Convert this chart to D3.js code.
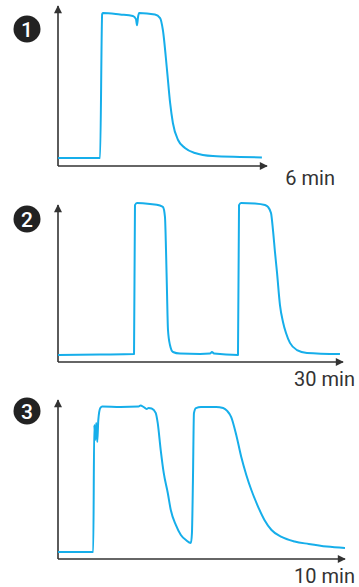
<!DOCTYPE html>
<html>
<head>
<meta charset="utf-8">
<script src="https://cdn.jsdelivr.net/npm/d3@7"></script>
<style>
  body { margin: 0; background: #fff; }
  svg { display: block; }
</style>
</head>
<body>
<div class="svg_container"></div>
<script>
// signal traces, time in minutes, level in % of plateau
var time1 = [0, 1.22, 1.28, 1.30, 1.80, 2.17, 2.26, 2.29, 2.32, 2.35, 2.81, 2.96, 3.04, 3.16, 3.25, 3.33, 3.48, 3.68, 3.97, 4.49, 5.28, 5.91];
var level1 = [5.2, 5.2, 99.3, 100, 99, 98, 96, 92, 97.4, 100, 99, 96.7, 88.9, 62.7, 41.2, 28.1, 17.0, 11.8, 8.5, 6.5, 5.9, 5.6];

var time2 = [0, 4.45, 8.06, 8.16, 8.37, 9.75, 10.81, 11.13, 11.34, 11.45, 11.55, 11.66, 11.87, 12.19, 12.93, 15.05, 16.11, 16.32, 16.54, 19.08, 19.19, 19.40, 20.88, 21.94, 22.26, 22.58, 22.79, 23.0, 23.22, 23.53, 23.85, 24.17, 24.59, 25.33, 26.39, 29.89];
var level2 = [4.4, 4.7, 5.0, 98.7, 100, 99.4, 98.4, 97.5, 91.2, 70.4, 45.3, 20.1, 10.7, 6.3, 5.3, 5.0, 5.3, 6.3, 5.3, 4.4, 98.7, 100, 99.7, 98.7, 97.5, 93.7, 83, 69.2, 56, 35.8, 25.2, 18.2, 12, 7.5, 5.7, 5.0];

var time3 = [0, 1.228, 1.263, 1.298, 1.333, 1.368, 1.404, 1.474, 1.544, 2.175, 2.807, 2.877, 2.982, 3.088, 3.158, 3.263, 3.404, 3.474, 3.579, 3.684, 3.825, 3.930, 4.105, 4.281, 4.456, 4.632, 4.667, 4.702, 4.737, 4.807, 4.982, 5.509, 5.754, 5.895, 6.035, 6.211, 6.386, 6.561, 6.737, 6.947, 7.193, 7.439, 7.789, 8.246, 8.737, 9.368, 10.0];
var level3 = [4.6, 4.6, 88.2, 78.3, 89.5, 77, 91.4, 99.3, 100.3, 100, 100.3, 101, 100, 98.7, 99.3, 99, 96.1, 89.5, 71.7, 56.6, 43.4, 32.2, 22.4, 15.8, 12.5, 10.5, 17.1, 52, 96, 99.3, 100, 100, 99.3, 97.4, 93.4, 81.6, 67.1, 55.3, 45.4, 35.5, 25.7, 19.1, 14.5, 11.5, 9.9, 8.2, 7.2];

var badges = ["1", "2", "3"];
var durations = [6, 30, 10];
var axisLabels = ["6 min", "30 min", "10 min"];

var width = 359, height = 587;

// per-panel layout
var panels = [
  { time: time1, level: level1, top: 6,   axisY: 166, plateauY: 13,  xEnd: 265, arrowEnd: 267, labelX: 335, labelY: 185, badgeY: 29 },
  { time: time2, level: level2, top: 205, axisY: 362, plateauY: 203, xEnd: 341, arrowEnd: 343, labelX: 355, labelY: 386, badgeY: 219 },
  { time: time3, level: level3, top: 400, axisY: 559, plateauY: 407, xEnd: 345, arrowEnd: 345, labelX: 355, labelY: 583, badgeY: 411 }
];

var svg = d3.select(".svg_container").append("svg")
  .attr("width", width)
  .attr("height", height);

var defs = svg.append("defs");
defs.append("marker")
  .attr("id", "arrow")
  .attr("viewBox", "0 0 10 10")
  .attr("refX", 9)
  .attr("refY", 5)
  .attr("markerWidth", 10)
  .attr("markerHeight", 8)
  .attr("markerUnits", "userSpaceOnUse")
  .attr("orient", "auto")
  .append("path")
  .attr("d", "M0,0L10,5L0,10Z")
  .attr("fill", "#333");

var axisLeftX = 58;

panels.forEach(function(p, i) {
  var x = d3.scaleLinear()
    .domain([0, durations[i]])
    .range([axisLeftX, p.xEnd]);
  var y = d3.scaleLinear()
    .domain([0, 100])
    .range([p.axisY, p.plateauY]);

  var g = svg.append("g").attr("class", "panel");

  // y axis with arrow
  g.append("line")
    .attr("x1", axisLeftX).attr("y1", p.axisY)
    .attr("x2", axisLeftX).attr("y2", p.top)
    .attr("stroke", "#333")
    .attr("stroke-width", 1.6)
    .attr("marker-end", "url(#arrow)");

  // x axis with arrow
  g.append("line")
    .attr("x1", axisLeftX).attr("y1", p.axisY)
    .attr("x2", p.arrowEnd).attr("y2", p.axisY)
    .attr("stroke", "#333")
    .attr("stroke-width", 1.6)
    .attr("marker-end", "url(#arrow)");

  var pts = p.time.map(function(t, j) { return [t, p.level[j]]; });

  var line = d3.line()
    .x(function(d) { return x(d[0]); })
    .y(function(d) { return y(d[1]); })
    .curve(d3.curveMonotoneX);

  g.append("path")
    .datum(pts)
    .attr("fill", "none")
    .attr("stroke", "#16aeea")
    .attr("stroke-width", 2)
    .attr("stroke-linejoin", "round")
    .attr("d", line);

  g.append("text")
    .attr("x", p.labelX)
    .attr("y", p.labelY)
    .attr("text-anchor", "end")
    .attr("font-family", "Roboto, sans-serif")
    .attr("font-size", 20)
    .attr("fill", "#333")
    .text(axisLabels[i]);

  // numbered badge
  g.append("circle")
    .attr("cx", 27)
    .attr("cy", p.badgeY)
    .attr("r", 13.5)
    .attr("fill", "#222");
  g.append("text")
    .attr("x", 27)
    .attr("y", p.badgeY + 7.5)
    .attr("text-anchor", "middle")
    .attr("font-family", "Roboto, sans-serif")
    .attr("font-weight", 500)
    .attr("font-size", 21)
    .attr("fill", "#fff")
    .text(badges[i]);
});
</script>
</body>
</html>
